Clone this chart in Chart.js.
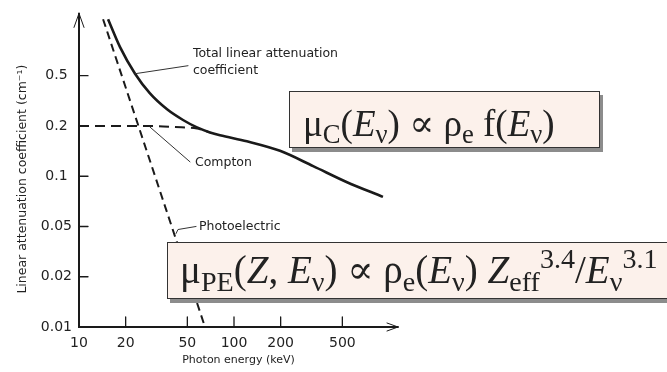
<!DOCTYPE html>
<html>
<head>
<meta charset="utf-8">
<script src="https://cdn.jsdelivr.net/npm/chart.js@4/dist/chart.umd.min.js"></script>
<style>
    body { margin: 0; background: #fff; }
    #wrap { position: relative; width: 667px; height: 372px; overflow: hidden; }
    .formula {
        position: absolute;
        box-sizing: border-box;
        background: #fcf1eb;
        border: 1.5px solid #333;
        box-shadow: 3px 4px 0 #8c8c8c;
        font-family: "Liberation Serif", "DejaVu Serif", serif;
        font-size: 37px;
        color: #222;
        white-space: nowrap;
        line-height: 1;
    }
    .formula sub { font-size: 0.72em; vertical-align: -0.28em; line-height: 0; }
    .formula sup { font-size: 0.72em; vertical-align: 0.55em; line-height: 0; }
    #box-c { left: 289px; top: 91px; width: 311px; height: 57px; padding: 13px 0 0 13px; }
    #box-pe { left: 167px; top: 242px; width: 510px; height: 57px; padding: 7px 0 0 12px; font-size: 39px; }
</style>
</head>
<body>
<div id="wrap">
    <canvas id="chart" width="667" height="372"></canvas>
    <div class="formula" id="box-c">μ<sub>C</sub>(<i>E</i><sub>ν</sub>) ∝ ρ<sub>e</sub> f(<i>E</i><sub>ν</sub>)</div>
    <div class="formula" id="box-pe">μ<sub>PE</sub>(<i>Z</i>, <i>E</i><sub>ν</sub>) ∝ ρ<sub>e</sub>(<i>E</i><sub>ν</sub>) <i>Z</i><sub>eff</sub><sup>3.4</sup>/<i>E</i><sub>ν</sub><sup>3.1</sup></div>
</div>
<script>
// ─── Данные ─────────────────────────────────────────────────────────────────

const energyTicks = [10, 20, 50, 100, 200, 500];          // keV
const muTicks = [0.01, 0.02, 0.05, 0.1, 0.2, 0.5];       // cm^-1
const muTickLabels = ["0.01", "0.02", "0.05", "0.1", "0.2", "0.5"];

const totalEnergy = [15.4, 18.4, 23.0, 28.7, 37.0, 46.9, 57.7, 70.0, 81.2, 121, 198, 324, 536, 914];
const totalMu = [1.09, 0.742, 0.514, 0.362, 0.271, 0.223, 0.196, 0.183, 0.176, 0.162, 0.142, 0.115, 0.0921, 0.0752];

const comptonEnergy = [10, 28.7, 41.6, 57.7, 70.0];
const comptonMu = [0.2, 0.2, 0.197, 0.193, 0.183];

const photoEnergy = [14.3, 65.0];
const photoMu = [1.09, 0.01];

// подписи-выноски: [energy, mu] точки линии и начало текста
const callouts = [
    {text: ["Total linear attenuation", "coefficient"], line: [[23.0, 0.514], [50.5, 0.574]], at: [54.3, 0.674]},
    {text: ["Compton"], line: [[28.7, 0.197], [52.0, 0.122]], at: [56.0, 0.121]},
    {text: ["Photoelectric"], line: [[42.3, 0.044], [43.5, 0.0473], [56.9, 0.05]], at: [59.4, 0.05]},
];

// ─── Ось Y: метки 0.01…0.5 стоят через равные шаги ──────────────────────────

const MU_LADDER = [0.01, 0.02, 0.05, 0.1, 0.2, 0.5, 1, 2];

function muToStep(v) {
    for (let i = 0; i < MU_LADDER.length - 1; i++) {
        const a = MU_LADDER[i], b = MU_LADDER[i + 1];
        if (v <= b || i === MU_LADDER.length - 2) {
            return i + Math.log(v / a) / Math.log(b / a);
        }
    }
}

function toPoints(xs, ys) {
    return xs.map((x, i) => ({x, y: muToStep(ys[i])}));
}

const INK = "#1a1a1a";
const SANS = "'DejaVu Sans', sans-serif";

// ─── Оси со стрелками, засечки внутрь, выноски ──────────────────────────────

const axesPlugin = {
    id: "axes",
    afterDatasetsDraw(chart) {
        const {ctx, chartArea: a, scales: {x, y}} = chart;
        ctx.save();
        ctx.strokeStyle = INK;
        ctx.lineCap = "round";

        // оси
        ctx.lineWidth = 2;
        ctx.beginPath();
        ctx.moveTo(a.left, a.top - 2);
        ctx.lineTo(a.left, a.bottom);
        ctx.lineTo(a.right, a.bottom);
        ctx.stroke();

        // стрелки
        ctx.lineWidth = 1;
        ctx.beginPath();
        ctx.moveTo(a.left - 5, a.top + 12);
        ctx.lineTo(a.left, a.top - 2);
        ctx.lineTo(a.left + 5, a.top + 12);
        ctx.moveTo(a.right - 11, a.bottom - 4);
        ctx.lineTo(a.right, a.bottom);
        ctx.lineTo(a.right - 11, a.bottom + 4);
        ctx.stroke();

        // засечки
        ctx.lineWidth = 1.3;
        ctx.beginPath();
        muTicks.slice(1).forEach((v) => {
            const py = y.getPixelForValue(muToStep(v));
            ctx.moveTo(a.left, py);
            ctx.lineTo(a.left + 9, py);
        });
        energyTicks.slice(1).forEach((v) => {
            const px = x.getPixelForValue(v);
            ctx.moveTo(px, a.bottom);
            ctx.lineTo(px, a.bottom - 10);
        });
        ctx.stroke();

        // выноски
        ctx.lineWidth = 1;
        ctx.strokeStyle = "#333";
        ctx.fillStyle = "#222";
        ctx.font = `12.5px ${SANS}`;
        ctx.textBaseline = "middle";
        for (const c of callouts) {
            ctx.beginPath();
            c.line.forEach(([e, m], i) => {
                const px = x.getPixelForValue(e), py = y.getPixelForValue(muToStep(m));
                if (i === 0) ctx.moveTo(px, py);
                else ctx.lineTo(px, py);
            });
            ctx.stroke();
            const tx = x.getPixelForValue(c.at[0]);
            const ty = y.getPixelForValue(muToStep(c.at[1]));
            c.text.forEach((t, i) => ctx.fillText(t, tx, ty + i * 17));
        }
        ctx.restore();
    },
};

new Chart(document.getElementById("chart"), {
    type: "line",
    data: {
        datasets: [
            {data: toPoints(totalEnergy, totalMu), borderColor: INK, borderWidth: 2.6, cubicInterpolationMode: "monotone"},
            {data: toPoints(comptonEnergy, comptonMu), borderColor: INK, borderWidth: 2, borderDash: [10, 6], cubicInterpolationMode: "monotone"},
            {data: toPoints(photoEnergy, photoMu), borderColor: INK, borderWidth: 2, borderDash: [8, 5]},
        ],
    },
    options: {
        responsive: false,
        animation: false,
        events: [],
        elements: {point: {radius: 0}},
        layout: {padding: {top: 10, right: 269, left: 0, bottom: 0}},
        plugins: {legend: {display: false}, tooltip: {enabled: false}},
        scales: {
            x: {
                type: "logarithmic",
                min: 10,
                max: 1143,
                grid: {display: false, drawTicks: false},
                border: {display: false},
                afterBuildTicks: (s) => { s.ticks = energyTicks.map((v) => ({value: v})); },
                afterFit: (s) => { s.height = 45; },
                ticks: {
                    padding: 8,
                    maxRotation: 0,
                    autoSkip: false,
                    color: "#222",
                    font: {family: SANS, size: 14},
                    callback: (v, i) => String(energyTicks[i]),
                },
                title: {display: true, text: "Photon energy (keV)", color: "#222", font: {family: SANS, size: 11}, padding: {top: 0, bottom: 5}},
            },
            y: {
                type: "linear",
                min: 0,
                max: 6.2,
                grid: {display: false, drawTicks: false},
                border: {display: false},
                afterBuildTicks: (s) => { s.ticks = muTicks.map((v) => ({value: muToStep(v)})); },
                afterFit: (s) => { s.width = 79; },
                ticks: {
                    padding: 7,
                    crossAlign: "center",
                    autoSkip: false,
                    color: "#222",
                    font: {family: SANS, size: 14},
                    callback: (v, i) => muTickLabels[i],
                },
                // хвостовые пробелы сдвигают центр подписи вниз, как в оригинале
                title: {display: true, text: "Linear attenuation coefficient (cm⁻¹)    ", color: "#222", font: {family: SANS, size: 12.5}, padding: {top: 15, bottom: 0}},
            },
        },
    },
    plugins: [axesPlugin],
});
</script>
</body>
</html>
